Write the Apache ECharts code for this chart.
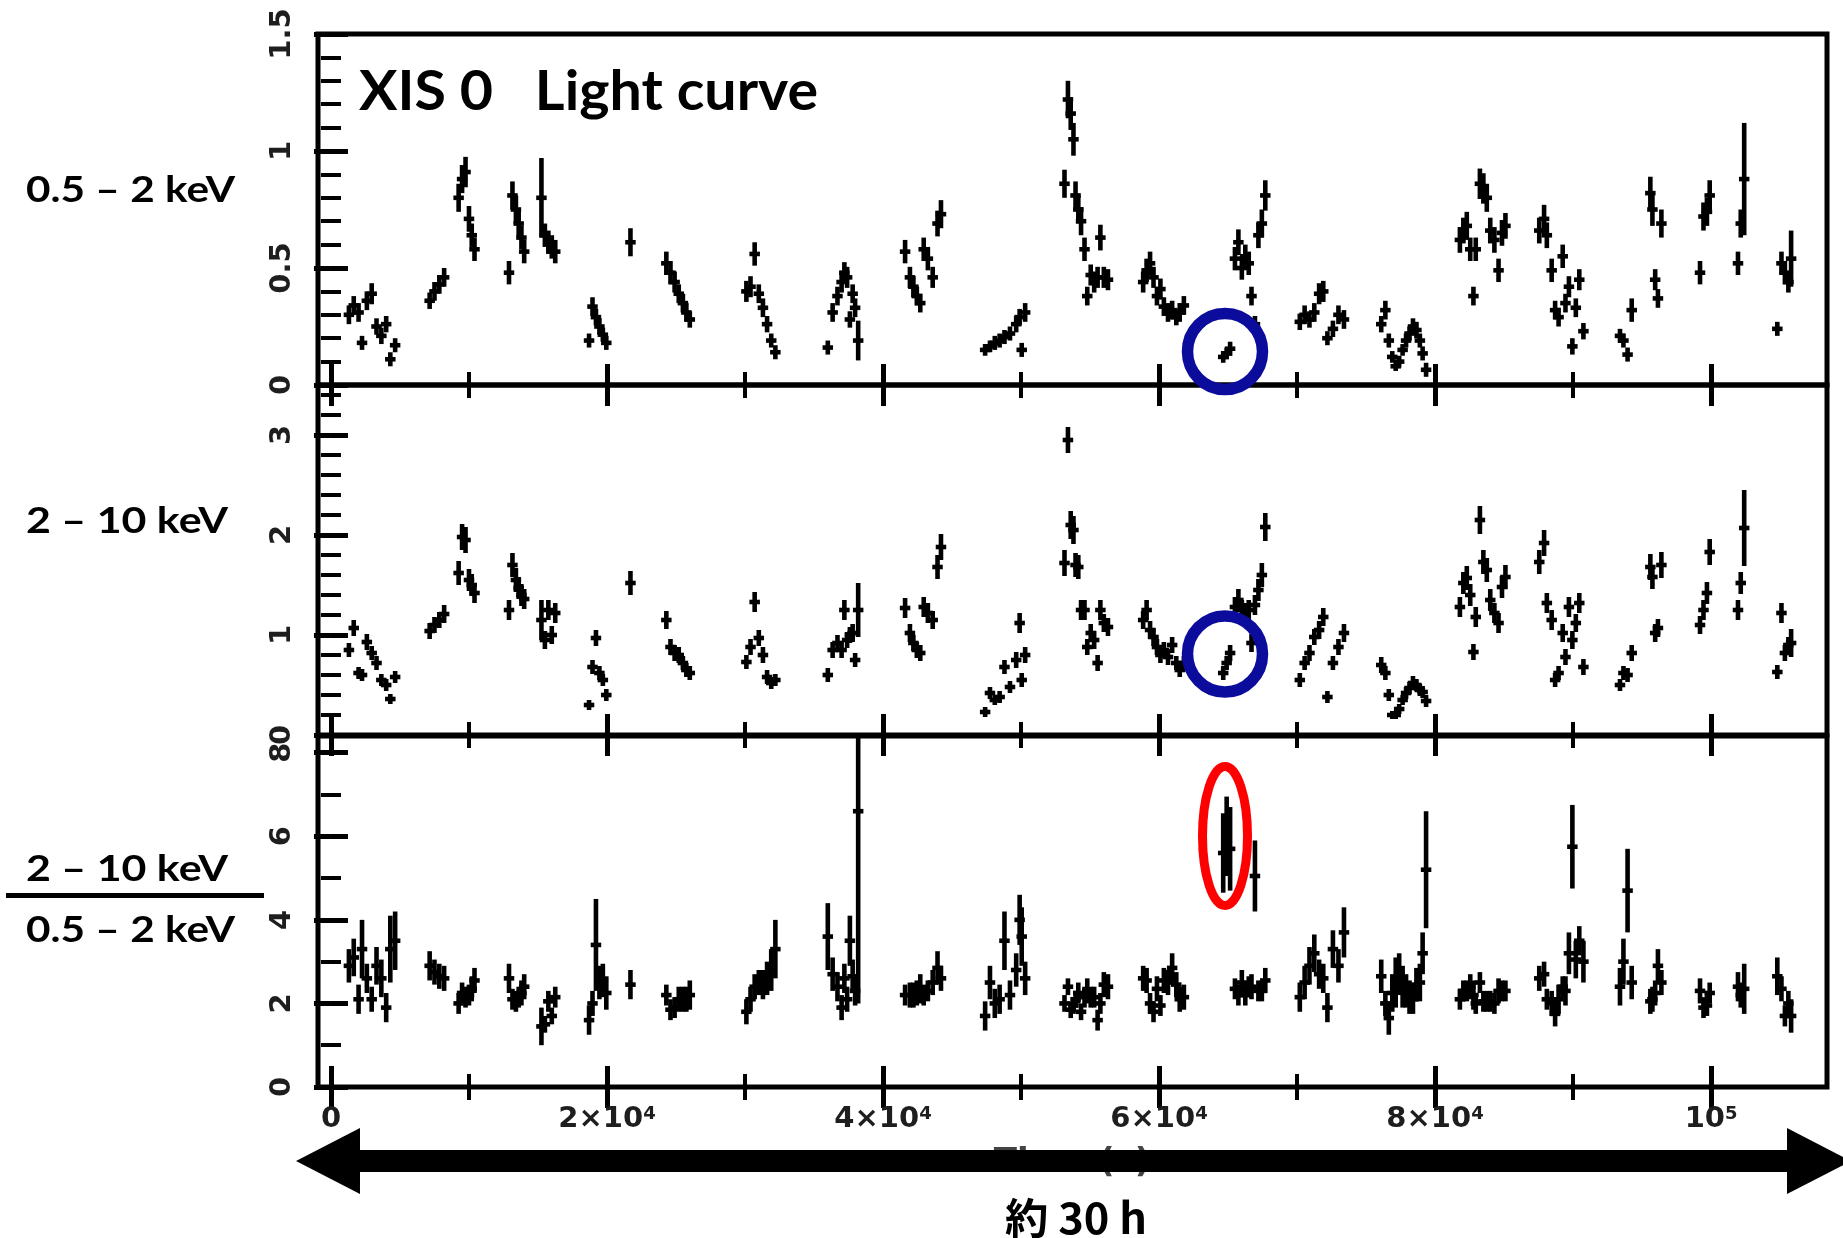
<!DOCTYPE html>
<html>
<head>
<meta charset="utf-8">
<script src="https://cdn.jsdelivr.net/npm/echarts@6/dist/echarts.min.js"></script>
<style>
html,body{margin:0;padding:0;background:#fff;}
#chart{width:1843px;height:1238px;}
</style>
</head>
<body>
<div id="chart"></div>
<script>
// ---------------- DATA ----------------
// bin centre times (s)
const timeSec = [
  1300, 1650, 2000, 2250, 2600, 2950, 3300, 3650, 4000, 4300, 4650,
  7150, 7500, 7850, 8200,
  9250, 9500, 9750, 10000, 10200, 10400,
  12900, 13150, 13400, 13600, 13800, 14000,
  15250, 15500, 15750, 16000, 16250,
  18700, 18950, 19200, 19450, 19700, 19950,
  21700,
  24300, 24600, 24900, 25200, 25500, 25750, 26000,
  30100, 30400, 30700, 31000, 31300, 31600, 31900, 32200,
  36000, 36350, 36700, 37000, 37200, 37400, 37600, 37800, 37980, 38200,
  41600, 41950, 42200, 42450, 42700, 42950, 43250, 43600, 43950, 44200,
  47400, 47750, 48100, 48450, 48800, 49200, 49650, 49900, 50050, 50300,
  53150, 53400, 53600, 53800, 53950, 54150, 54350, 54600, 54800, 55050, 55300, 55550, 55750, 56000, 56300,
  58850, 59100, 59350, 59600, 59850, 60100, 60350, 60650, 60950, 61250, 61500, 61800,
  64650, 64900, 65150, 65500, 65750, 66000, 66250, 66500, 66700, 66950, 67200, 67450, 67700,
  70200, 70550, 70900, 71250, 71600, 71900, 72200, 72600, 73000, 73400,
  76100, 76400, 76650, 76900, 77150, 77400, 77650, 77900, 78150, 78400, 78650, 78900, 79100, 79350,
  81800, 82050, 82300, 82550, 82780, 82950, 83250, 83500, 83750, 84000, 84300, 84600, 84850, 85100,
  87550, 87900, 88100, 88450, 88700, 88950, 89250, 89450, 89700, 89950, 90200, 90450, 90750,
  93400, 93650, 93950, 94250, 95600, 95750, 95950, 96150, 96400,
  99200, 99450, 99700, 99900, 101950, 102150, 102400,
  104800, 105100, 105350, 105600, 105800
];
// 0.5 - 2 keV count rate
const softRate = [
  0.30, 0.34, 0.31, 0.18, 0.36, 0.39, 0.25, 0.21, 0.26, 0.11, 0.17,
  0.36, 0.40, 0.43, 0.46,
  0.80, 0.88, 0.91, 0.71, 0.64, 0.58,
  0.48, 0.81, 0.75, 0.69, 0.63, 0.57,
  0.80, 0.64, 0.61, 0.59, 0.57,
  0.19, 0.335, 0.29, 0.25, 0.215, 0.18,
  0.61,
  0.52, 0.48, 0.44, 0.39, 0.35, 0.31, 0.28,
  0.40, 0.42, 0.56, 0.39, 0.33, 0.26, 0.19, 0.14,
  0.16, 0.31, 0.38, 0.44, 0.48, 0.46, 0.28, 0.39, 0.33, 0.19,
  0.57, 0.46, 0.42, 0.38, 0.35, 0.58, 0.54, 0.46, 0.69, 0.73,
  0.15, 0.165, 0.18, 0.19, 0.205, 0.22, 0.26, 0.29, 0.15, 0.31,
  0.86, 1.22, 1.16, 1.05, 0.81, 0.75, 0.70, 0.58, 0.38, 0.47, 0.44, 0.46, 0.63, 0.46, 0.45,
  0.44, 0.49, 0.52, 0.46, 0.38, 0.41, 0.335, 0.31, 0.32, 0.29, 0.31, 0.34,
  0.12, 0.135, 0.155, 0.54, 0.61, 0.50, 0.55, 0.52, 0.38, 0.26, 0.64, 0.69, 0.81,
  0.27, 0.30, 0.28, 0.31, 0.39, 0.40, 0.20, 0.24, 0.30, 0.28,
  0.26, 0.32, 0.19, 0.12, 0.08, 0.10, 0.15, 0.19, 0.22, 0.25, 0.235, 0.19, 0.135, 0.065,
  0.62, 0.66, 0.68, 0.58, 0.38, 0.58, 0.86, 0.84, 0.80, 0.66, 0.62, 0.49, 0.65, 0.68,
  0.66, 0.71, 0.64, 0.49, 0.32, 0.29, 0.55, 0.35, 0.42, 0.165, 0.33, 0.45, 0.23,
  0.21, 0.19, 0.13, 0.32, 0.82, 0.75, 0.45, 0.37, 0.69,
  0.48, 0.72, 0.74, 0.81, 0.52, 0.69, 0.88,
  0.24, 0.52, 0.48, 0.44, 0.54
];
const softErr = [
  .04, .04, .04, .03, .04, .045, .035, .035, .035, .03, .03,
  .035, .04, .04, .04,
  .06, .06, .065, .055, .05, .05,
  .05, .06, .06, .055, .05, .05,
  .17, .05, .05, .05, .05,
  .03, .04, .035, .035, .03, .03,
  .06,
  .05, .05, .045, .04, .04, .04, .035,
  .045, .045, .05, .04, .04, .035, .03, .03,
  .03, .04, .04, .045, .045, .045, .035, .04, .04, .085,
  .05, .045, .045, .04, .04, .05, .05, .045, .055, .06,
  .025, .025, .03, .03, .03, .03, .035, .035, .03, .04,
  .06, .08, .07, .07, .06, .06, .06, .05, .04, .045, .045, .045, .055, .045, .045,
  .045, .05, .05, .045, .04, .045, .04, .04, .04, .035, .04, .04,
  .025, .025, .03, .05, .055, .05, .05, .05, .04, .035, .055, .06, .065,
  .035, .04, .035, .04, .045, .045, .03, .035, .04, .04,
  .035, .04, .03, .025, .02, .025, .025, .03, .03, .035, .035, .03, .03, .03,
  .055, .055, .06, .05, .04, .05, .065, .065, .06, .055, .055, .05, .055, .055,
  .055, .06, .055, .05, .04, .04, .05, .04, .045, .035, .04, .045, .035,
  .03, .03, .03, .05, .07, .07, .045, .04, .06,
  .05, .06, .06, .065, .05, .06, .24,
  .03, .05, .05, .045, .12
];
// 2 - 10 keV count rate
const hardRate = [
  0.85, 1.07, 0.62, 0.60, 0.93, 0.82, 0.72, 0.55, 0.50, 0.36, 0.58,
  1.04, 1.10, 1.15, 1.21,
  1.62, 1.98, 1.95, 1.55, 1.50, 1.42,
  1.25, 1.70, 1.55, 1.47, 1.40, 1.36,
  1.15, 0.95, 1.25, 1.00, 1.22,
  0.30, 0.68, 0.97, 0.62, 0.55, 0.40,
  1.52,
  1.15, 0.88, 0.82, 0.80, 0.72, 0.65, 0.62,
  0.73, 0.88, 1.33, 0.97, 0.80, 0.58, 0.52, 0.55,
  0.60, 0.85, 0.92, 0.85, 1.25, 0.95, 1.00, 1.02, 0.75, 1.25,
  1.27, 1.02, 0.92, 0.85, 0.82, 1.28, 1.22, 1.15, 1.68, 1.88,
  0.23, 0.42, 0.35, 0.38, 0.68, 0.48, 0.75, 1.12, 0.55, 0.80,
  1.72, 2.95, 2.10, 2.05, 1.70, 1.68, 1.25, 1.25, 0.88, 1.02, 0.95, 0.72, 1.25, 1.12, 1.08,
  1.15, 1.25, 1.05, 0.98, 0.88, 0.80, 0.85, 0.78, 0.90, 0.72, 0.65, 0.72,
  0.62, 0.72, 0.82, 1.28, 1.35, 1.25, 1.22, 1.25, 0.92, 1.30, 1.45, 1.60, 2.08,
  0.55, 0.72, 0.82, 0.98, 1.05, 1.18, 0.38, 0.72, 0.88, 1.02,
  0.70, 0.62, 0.40, 0.20, 0.20, 0.26, 0.35, 0.42, 0.47, 0.52, 0.50, 0.45, 0.43, 0.34,
  1.28, 1.52, 1.57, 1.40, 0.83, 1.18, 2.15, 1.73, 1.65, 1.35, 1.22, 1.12, 1.48, 1.58,
  1.73, 1.92, 1.32, 1.15, 0.55, 0.62, 1.02, 0.78, 1.28, 0.95, 1.12, 1.32, 0.68,
  0.50, 0.62, 0.60, 0.82, 1.68, 1.58, 1.02, 1.07, 1.70,
  1.10, 1.25, 1.42, 1.83, 1.25, 1.52, 2.07,
  0.63, 1.22, 0.82, 0.90, 0.92
];
const hardErr = [
  .07, .08, .06, .06, .08, .07, .07, .06, .06, .05, .06,
  .08, .08, .08, .09,
  .12, .13, .13, .11, .11, .1,
  .1, .12, .12, .11, .11, .1,
  .2, .09, .1, .09, .1,
  .05, .07, .08, .07, .06, .06,
  .12,
  .09, .08, .08, .08, .07, .07, .07,
  .07, .08, .1, .08, .08, .07, .06, .06,
  .07, .08, .08, .08, .1, .08, .08, .09, .07, .27,
  .1, .09, .08, .08, .08, .1, .1, .09, .12, .13,
  .05, .06, .05, .06, .07, .06, .08, .1, .07, .08,
  .13, .13, .14, .14, .12, .12, .1, .1, .08, .09, .09, .08, .1, .09, .09,
  .09, .1, .09, .09, .08, .08, .08, .08, .08, .07, .07, .07,
  .07, .07, .08, .1, .11, .1, .1, .1, .09, .1, .11, .12, .14,
  .07, .07, .08, .08, .09, .09, .06, .07, .08, .09,
  .08, .07, .06, .04, .04, .05, .05, .06, .06, .07, .06, .06, .06, .06,
  .1, .11, .12, .11, .08, .1, .14, .12, .12, .11, .1, .1, .11, .12,
  .12, .13, .1, .1, .07, .07, .09, .08, .1, .09, .09, .1, .08,
  .06, .07, .07, .08, .13, .12, .09, .09, .13,
  .09, .1, .11, .13, .1, .11, .38,
  .07, .1, .08, .08, .14
];
// (2 - 10 keV) / (0.5 - 2 keV)
const hardnessRatio = [
  2.9, 3.1, 2.1, 3.3, 2.6, 2.1, 2.9, 2.6, 1.9, 3.3, 3.5,
  2.9, 2.75, 2.65, 2.6,
  2.0, 2.25, 2.15, 2.2, 2.35, 2.55,
  2.6, 2.1, 2.05, 2.15, 2.25, 2.4,
  1.45, 1.5, 2.05, 1.7, 2.15,
  1.6, 2.0, 3.4, 2.5, 2.55, 2.25,
  2.45,
  2.2, 1.85, 1.9, 2.1, 2.1, 2.1, 2.2,
  1.8, 2.1, 2.4, 2.5, 2.45, 2.6, 2.8, 3.3,
  3.6, 2.7, 2.4, 1.9, 2.6, 2.1, 3.5, 2.65, 2.3, 6.6,
  2.2, 2.2, 2.2, 2.25, 2.35, 2.2, 2.3, 2.5, 2.85, 2.6,
  1.7, 2.5, 2.0, 2.1, 3.5, 2.2, 2.8, 4.0, 3.6, 2.6,
  2.0, 2.4, 1.85, 1.95, 2.1, 2.25, 1.8, 2.15, 2.3, 2.15, 2.15, 1.6, 2.0, 2.45, 2.4,
  2.6, 2.55, 2.0, 1.8, 2.35, 1.95, 2.55, 2.5, 2.85, 2.45, 2.1, 2.15,
  5.6, 6.0, 5.7, 2.35, 2.2, 2.5, 2.2, 2.4, 2.4, 5.05, 2.3, 2.3, 2.55,
  2.15, 2.5, 2.9, 3.2, 2.7, 2.6, 1.9, 3.3, 2.9, 3.7,
  2.65, 2.0, 1.65, 2.25, 2.5, 2.7, 2.4, 2.3, 2.15, 2.1, 2.45, 2.5, 3.2, 5.2,
  2.1, 2.3, 2.3, 2.4, 2.2, 2.0, 2.5, 2.05, 2.05, 2.05, 2.0, 2.3, 2.3, 2.3,
  2.6, 2.7, 2.1, 2.0, 1.75, 2.1, 2.4, 2.3, 3.2, 5.75, 3.05, 3.5, 3.0,
  2.4, 3.0, 4.7, 2.5, 2.05, 2.1, 2.25, 2.9, 2.5,
  2.3, 1.9, 1.95, 2.25, 2.4, 2.2, 2.35,
  2.65, 2.35, 1.7, 2.0, 1.7
];
const ratioErr = [
  .4, .45, .35, .7, .35, .3, .45, .45, .35, .8, .7,
  .35, .3, .3, .3,
  .25, .25, .25, .25, .3, .3,
  .35, .25, .25, .25, .3, .3,
  .45, .2, .25, .2, .25,
  .35, .3, 1.1, .4, .4, .4,
  .35,
  .25, .25, .25, .3, .3, .3, .35,
  .3, .3, .3, .3, .35, .4, .5, .7,
  .8, .4, .35, .3, .35, .3, .6, .4, .35, 4.6,
  .25, .3, .3, .3, .35, .25, .25, .3, .4, .3,
  .35, .4, .35, .35, .7, .35, .4, .6, .7, .4,
  .2, .2, .2, .2, .2, .25, .2, .25, .3, .25, .25, .25, .25, .3, .3,
  .3, .3, .25, .25, .3, .25, .3, .3, .35, .3, .3, .3,
  .95, .95, 1.0, .25, .25, .3, .25, .25, .3, .85, .25, .25, .3,
  .35, .4, .45, .45, .35, .35, .35, .45, .4, .6,
  .4, .3, .4, .45, .6, .5, .5, .4, .4, .35, .4, .45, .5, 1.4,
  .25, .25, .25, .3, .35, .25, .25, .25, .25, .25, .25, .3, .25, .25,
  .3, .3, .25, .3, .3, .35, .25, .35, .5, 1.0, .45, .35, .5,
  .45, .55, 1.0, .4, .3, .3, .3, .4, .3,
  .3, .25, .25, .25, .35, .3, .6,
  .45, .3, .25, .3, .4
];
const binWidthSec = 760;

// axis ticks
const xMajorTicks = [0, 20000, 40000, 60000, 80000, 100000];
const xMinorTicks = [10000, 30000, 50000, 70000, 90000];
const softMajorTicks = [0, 0.5, 1, 1.5];
const softMinorTicks = [0.1, 0.2, 0.3, 0.4, 0.6, 0.7, 0.8, 0.9, 1.1, 1.2, 1.3, 1.4];
const hardMajorTicks = [0, 1, 2, 3];
const hardMinorTicks = [0.2, 0.4, 0.6, 0.8, 1.2, 1.4, 1.6, 1.8, 2.2, 2.4, 2.6, 2.8, 3.2, 3.4];
const ratioMajorTicks = [0, 2, 4, 6, 8];
const ratioMinorTicks = [1, 3, 5, 7];

// ---------------- checks ----------------
[softRate, softErr, hardRate, hardErr, hardnessRatio, ratioErr].forEach((a, k) => {
  if (a.length !== timeSec.length) throw new Error('array ' + k + ' length ' + a.length + ' vs ' + timeSec.length);
});

// ---------------- LAYOUT ----------------
const X_MIN = -940, X_MAX = 108400;
const GRID_LEFT = 318, GRID_WIDTH = 1509;
const panels = [
  { top: 34,  height: 351, range: [0, 1.5], major: softMajorTicks,  minor: softMinorTicks,  vals: softRate,      errs: softErr },
  { top: 385, height: 350, range: [0, 3.5], major: hardMajorTicks,  minor: hardMinorTicks,  vals: hardRate,      errs: hardErr },
  { top: 736, height: 351, range: [0, 8.4], major: ratioMajorTicks, minor: ratioMinorTicks, vals: hardnessRatio, errs: ratioErr }
];
const LABEL_FONT = 'DejaVu Sans';
const LABEL_COLOR = '#1e1e1e';
const MARK_WIDTH = 4.6;

function xAxis(g, pos, ticks, len, w, withLabels) {
  return {
    type: 'value', gridIndex: g, position: pos, min: X_MIN, max: X_MAX,
    axisLine: { show: false }, splitLine: { show: false },
    axisTick: { show: true, inside: true, length: len, customValues: ticks, lineStyle: { color: '#000', width: w } },
    axisLabel: withLabels ? {
      show: true, customValues: xMajorTicks, margin: 18, color: LABEL_COLOR,
      fontFamily: LABEL_FONT, fontWeight: 'bold', fontSize: 29,
      formatter: function (v) {
        if (v === 0) return '0';
        if (v === 100000) return '10{sup|5}';
        return (v / 10000) + '×10{sup|4}';
      },
      rich: { sup: { fontSize: 18, fontFamily: LABEL_FONT, fontWeight: 'bold', color: LABEL_COLOR, verticalAlign: 'top' } }
    } : { show: false }
  };
}
function yAxis(g, pos, range, ticks, len, w, withLabels) {
  return {
    type: 'value', gridIndex: g, position: pos, min: range[0], max: range[1],
    axisLine: { show: false }, splitLine: { show: false },
    axisTick: { show: true, inside: true, length: len, customValues: ticks, lineStyle: { color: '#000', width: w } },
    axisLabel: withLabels ? {
      show: true, customValues: ticks, rotate: 90, margin: 21, color: LABEL_COLOR,
      fontFamily: LABEL_FONT, fontWeight: 'bold', fontSize: 29
    } : { show: false }
  };
}

const grids = [], xAxes = [], yAxes = [], series = [];
panels.forEach(function (p, g) {
  grids.push({ left: GRID_LEFT, top: p.top, width: GRID_WIDTH, height: p.height, show: true,
    borderColor: '#000', borderWidth: 5, backgroundColor: 'transparent', containLabel: false, outerBoundsMode: 'none' });
  xAxes.push(xAxis(g, 'bottom', xMajorTicks, 21, 5, g === 2));
  xAxes.push(xAxis(g, 'bottom', xMinorTicks, 13, 4, false));
  xAxes.push(xAxis(g, 'top', xMajorTicks, 21, 5, false));
  xAxes.push(xAxis(g, 'top', xMinorTicks, 13, 4, false));
  yAxes.push(yAxis(g, 'left', p.range, p.major, 17, 5, true));
  yAxes.push(yAxis(g, 'left', p.range, p.minor, 10, 4, false));
  yAxes.push(yAxis(g, 'right', p.range, p.major, 17, 5, false));
  yAxes.push(yAxis(g, 'right', p.range, p.minor, 10, 4, false));
  series.push({
    type: 'custom', xAxisIndex: 4 * g, yAxisIndex: 4 * g, clip: true, silent: true, z: 5,
    data: timeSec.map(function (t, i) { return [t, p.vals[i], p.errs[i]]; }),
    encode: { x: 0, y: 1 },
    renderItem: function (params, api) {
      const t = api.value(0), v = api.value(1), e = api.value(2);
      const c = api.coord([t, v]);
      const hi = api.coord([t, v + e]);
      const lo = api.coord([t, v - e]);
      const l = api.coord([t - binWidthSec / 2, v]);
      const r = api.coord([t + binWidthSec / 2, v]);
      return {
        type: 'group',
        children: [
          { type: 'line', shape: { x1: c[0], y1: hi[1], x2: c[0], y2: lo[1] }, style: { stroke: '#000', lineWidth: MARK_WIDTH } },
          { type: 'line', shape: { x1: l[0], y1: c[1], x2: r[0], y2: c[1] }, style: { stroke: '#000', lineWidth: MARK_WIDTH } }
        ]
      };
    }
  });
});

// ---------------- annotation text / shapes ----------------
const measureCtx = document.createElement('canvas').getContext('2d');
function fitText(text, font, left, centerY, width, color, z) {
  measureCtx.font = font;
  const w = measureCtx.measureText(text).width || width;
  return {
    type: 'text', x: left, y: centerY, scaleX: width / w, z: z || 50, silent: true,
    style: { text: text, font: font, fill: color || '#000',
      textAlign: 'left', textVerticalAlign: 'middle', align: 'left', verticalAlign: 'middle' }
  };
}
const LFONT = 'bold 37px Lato';
const graphics = [
  fitText('XIS 0   Light curve', 'bold 56px Lato', 359, 92, 459, '#000', 60),
  fitText('0.5 – 2 keV', LFONT, 26, 190, 209),
  fitText('2 – 10 keV', LFONT, 26, 521, 202),
  fitText('2 – 10 keV', LFONT, 26, 869, 202),
  { type: 'rect', shape: { x: 6, y: 893, width: 258, height: 5 }, style: { fill: '#000' }, z: 50, silent: true },
  fitText('0.5 – 2 keV', LFONT, 26, 930, 209),
  // axis title, mostly hidden behind the arrow
  { type: 'text', x: 1072, y: 1163, z: 40, silent: true,
    style: { text: 'Time (s)', font: 'bold 34px "DejaVu Sans"', fill: '#444', textAlign: 'center', textVerticalAlign: 'middle', align: 'center', verticalAlign: 'middle' } },
  // double arrow
  { type: 'polygon', z: 45, silent: true,
    shape: { points: [[296, 1161], [360, 1128], [360, 1150], [1787, 1150], [1787, 1128], [1851, 1161], [1787, 1194], [1787, 1172], [360, 1172], [360, 1194]] },
    style: { fill: '#000' } },
  fitText('約 30 h', 'bold 42px "Noto Sans CJK JP"', 1005, 1218, 142),
  // highlight marks
  { type: 'ellipse', z: 70, silent: true, shape: { cx: 1225, cy: 351.5, rx: 37.5, ry: 38 }, style: { fill: 'none', stroke: '#0c0c9c', lineWidth: 11.5 } },
  { type: 'ellipse', z: 70, silent: true, shape: { cx: 1225, cy: 654, rx: 37.5, ry: 38 }, style: { fill: 'none', stroke: '#0c0c9c', lineWidth: 11.5 } },
  { type: 'ellipse', z: 70, silent: true, shape: { cx: 1225, cy: 836, rx: 22.5, ry: 69.5 }, style: { fill: 'none', stroke: '#ff0000', lineWidth: 9 } }
];

const chart = echarts.init(document.getElementById('chart'), null, { renderer: 'canvas', width: 1843, height: 1238 });
chart.setOption({
  backgroundColor: '#ffffff',
  animation: false,
  grid: grids,
  xAxis: xAxes,
  yAxis: yAxes,
  series: series,
  graphic: { elements: graphics }
});
</script>
</body>
</html>
